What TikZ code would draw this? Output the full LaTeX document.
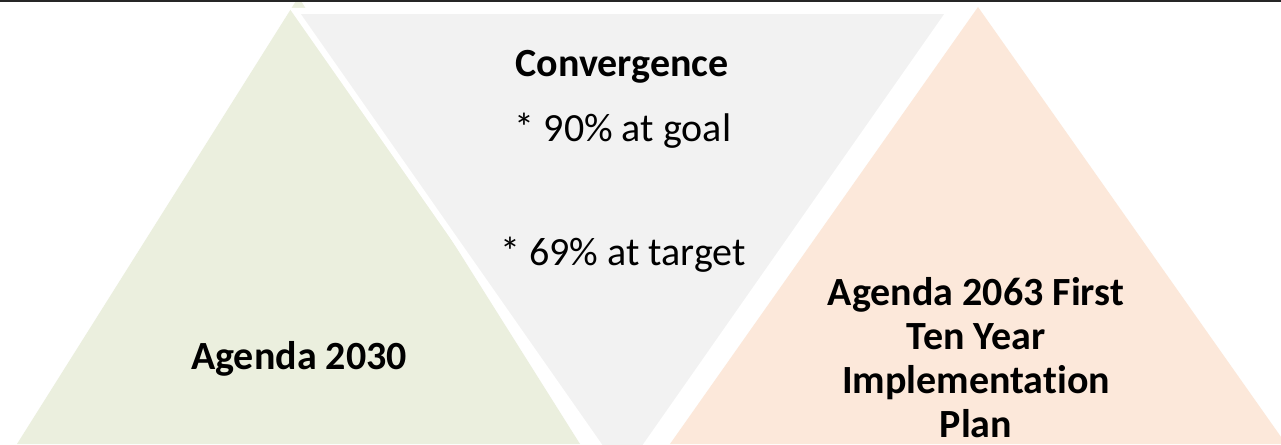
\documentclass[tikz,border=0pt]{standalone}
\usepackage{fontspec}
\setmainfont{Carlito}[Ligatures=CommonOff]
\usepackage{xcolor}
\definecolor{agendagreen}{HTML}{EBEFDE}
\definecolor{convgray}{HTML}{F2F2F2}
\definecolor{agendapeach}{HTML}{FCE8DA}

\begin{document}
\begin{tikzpicture}[x=1pt, y=-1pt,
    convtri/.style={fill=convgray, draw=white, line width=6pt, line join=miter},
    lbl/.style={inner sep=0pt, font=\fontsize{40}{44}\selectfont, align=center},
    bold/.style={lbl, font=\fontsize{40}{44}\selectfont\bfseries}]
    \useasboundingbox[fill=white] (0,0) rectangle (1281,444);
    \clip (0,0) rectangle (1281,444);

    \fill[agendagreen] (17,444) -- (298.5,-3) -- (580,444) -- cycle;
    \fill[agendapeach] (670,444) -- (978,7) -- (1286,444) -- cycle;
    \draw[convtri] (295,11) -- (950,11) -- (622.5,479) -- cycle;

    \draw[line width=2.6pt, black!85] (0,1.2) -- (1281,1.2);

    \node[bold] (conv) at (622,67) {Convergence};
    \node[lbl] (goal) at (623,131) {* 90\% at goal};
    \node[lbl] (target) at (623,255) {* 69\% at target};
    \node[bold] (a2030) at (299,359) {Agenda 2030};
    \node[bold] (a2063) at (976,358) {Agenda 2063 First\\Ten Year\\Implementation\\Plan};
\end{tikzpicture}
\end{document}
